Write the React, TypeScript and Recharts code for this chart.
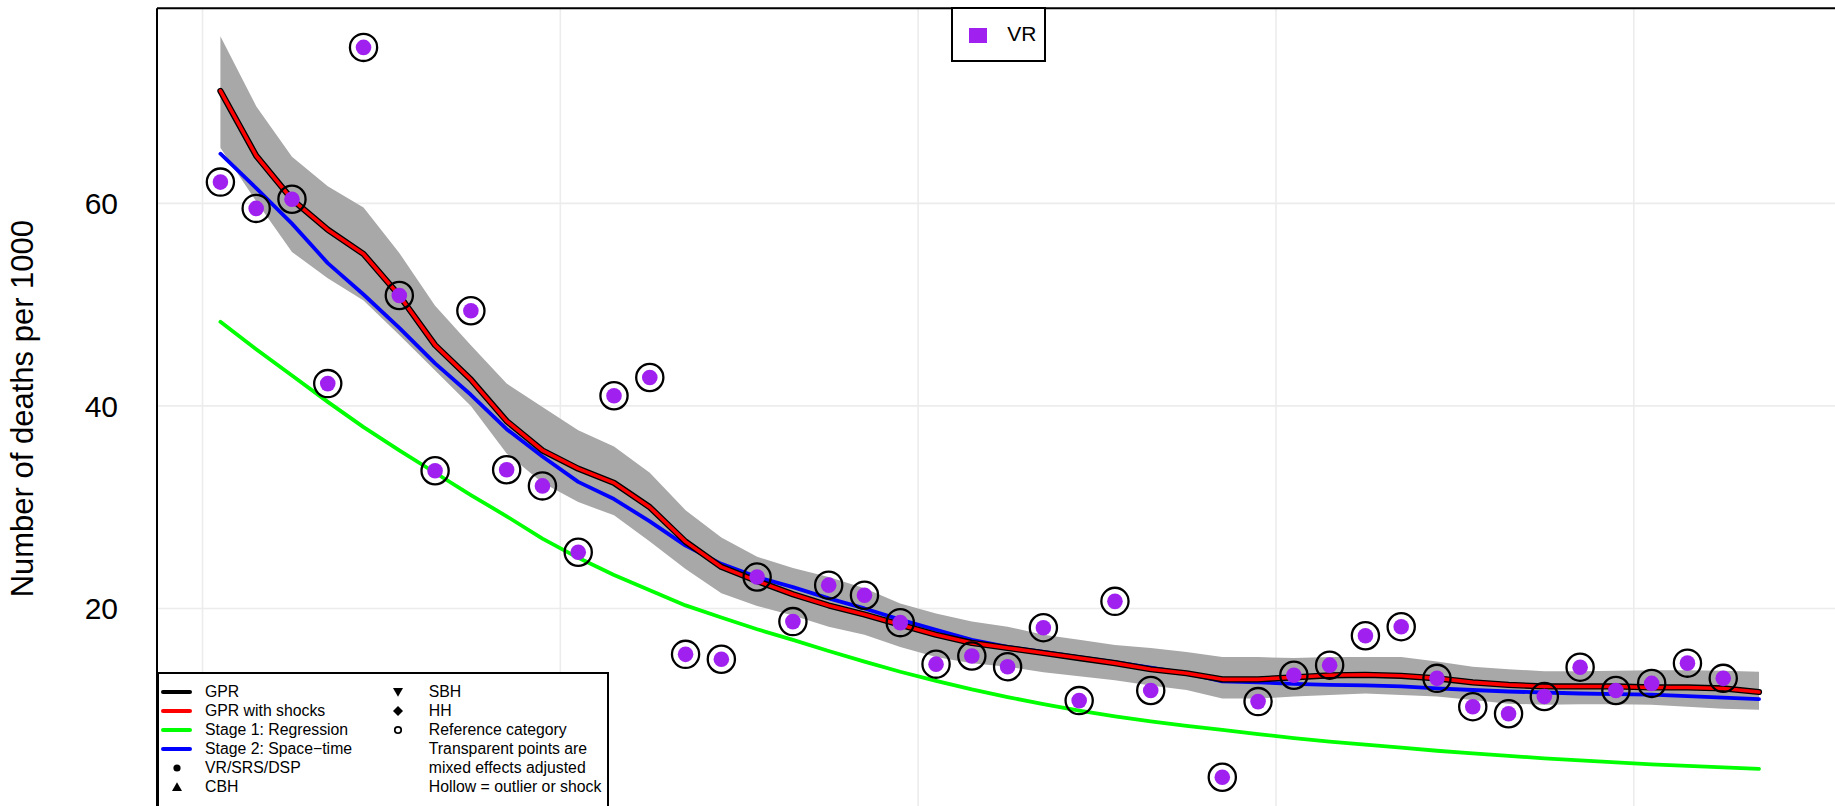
import React from "react";
import {
  ComposedChart,
  Line,
  Area,
  Scatter,
  XAxis,
  YAxis,
  CartesianGrid,
  ReferenceLine,
  Legend,
  Label,
} from "recharts";

const FONT = "'Liberation Sans', Arial, Helvetica, sans-serif";

// estimate years (drawn at mid-year)
const years = [
  1970, 1971, 1972, 1973, 1974, 1975, 1976, 1977, 1978, 1979, 1980, 1981, 1982, 1983, 1984,
  1985, 1986, 1987, 1988, 1989, 1990, 1991, 1992, 1993, 1994, 1995, 1996, 1997, 1998, 1999,
  2000, 2001, 2002, 2003, 2004, 2005, 2006, 2007, 2008, 2009, 2010, 2011, 2012, 2013,
];
const gpr = [
  71.1, 64.7, 60.4, 57.4, 55.0, 50.9, 46.0, 42.6, 38.5, 35.6, 33.8, 32.4, 30.0, 26.6, 24.1,
  22.7, 21.4, 20.3, 19.4, 18.4, 17.4, 16.6, 16.1, 15.6, 15.1, 14.6, 14.0, 13.6, 13.0, 13.0,
  13.2, 13.4, 13.45, 13.35, 13.1, 12.7, 12.45, 12.3, 12.3, 12.3, 12.2, 12.2, 12.1, 11.75,
];
const stage1 = [
  48.3, 45.6, 43.0, 40.4, 37.9, 35.6, 33.4, 31.2, 29.1, 26.9, 25.0, 23.3, 21.8, 20.3, 19.1,
  17.95, 16.9, 15.8, 14.75, 13.75, 12.85, 12.0, 11.25, 10.55, 9.9, 9.35, 8.85, 8.4, 8.0, 7.6,
  7.2, 6.85, 6.55, 6.25, 5.95, 5.7, 5.45, 5.2, 5.0, 4.8, 4.6, 4.45, 4.3, 4.15,
];
const stage2 = [
  64.9, 61.5, 58.0, 54.1, 51.0, 47.7, 44.2, 41.1, 37.7, 35.0, 32.5, 30.8, 28.6, 26.2, 24.4,
  23.1, 22.1, 21.0, 20.0, 18.9, 17.9, 16.9, 16.2, 15.7, 15.2, 14.7, 14.15, 13.6, 12.8, 12.7,
  12.55, 12.45, 12.4, 12.3, 12.1, 11.95, 11.8, 11.7, 11.6, 11.55, 11.5, 11.35, 11.2, 11.05,
];
const gprLower = [
  65.5, 60.2, 55.2, 52.6, 50.4, 47.0, 43.5, 40.0, 35.3, 32.4, 30.5, 29.2, 26.6, 23.9, 21.5,
  20.25, 19.3, 18.2, 17.4, 16.2, 15.2, 14.6, 14.25, 13.7, 13.3, 12.9, 12.4, 11.95, 11.1, 11.1,
  11.3, 11.45, 11.6, 11.45, 11.3, 10.95, 10.6, 10.5, 10.55, 10.55, 10.5, 10.3, 10.1, 10.0,
];
const gprUpper = [
  76.5, 69.6, 64.6, 61.7, 59.6, 55.1, 49.9, 46.0, 42.2, 39.9, 37.6, 36.0, 33.4, 29.7, 27.0,
  25.1, 24.0, 23.1, 22.0, 20.5, 19.5, 18.7, 18.2, 17.4, 16.9, 16.4, 16.1, 15.7, 15.2, 15.2,
  15.1, 15.2, 15.2, 15.2, 14.75, 14.25, 14.0, 13.8, 13.8, 13.85, 13.9, 13.9, 13.85, 13.75,
];

// VR data points
const vrYears = [
  1970, 1971, 1972, 1973, 1974, 1975, 1976, 1977, 1978, 1979, 1980, 1981, 1982, 1983, 1984,
  1985, 1986, 1987, 1988, 1989, 1990, 1991, 1992, 1993, 1994, 1995, 1996, 1998, 1999, 2000,
  2001, 2002, 2003, 2004, 2005, 2006, 2007, 2008, 2009, 2010, 2011, 2012,
];
const vrValues = [
  62.1, 59.5, 60.4, 42.2, 75.4, 50.9, 33.6, 49.4, 33.7, 32.1, 25.55, 41.0, 42.8, 15.47, 14.98,
  23.1, 18.7, 22.3, 21.3, 18.6, 14.5, 15.3, 14.25, 18.1, 10.9, 20.7, 11.9, 3.33, 10.8, 13.4,
  14.4, 17.3, 18.2, 13.1, 10.3, 9.6, 11.3, 14.2, 11.9, 12.6, 14.6, 13.1,
];

const xTicks = [1970, 1980, 1990, 2000, 2010];
const yTicks = [20, 40, 60];
const xDomain = [1968.728, 2017.44];

const lineKeys = [
  { label: "GPR", color: "#000000" },
  { label: "GPR with shocks", color: "#ff0000" },
  { label: "Stage 1: Regression", color: "#00ff00" },
  { label: "Stage 2: Space\u2212time", color: "#0000ff" },
];
const leftSymbolKeys = [
  { label: "VR/SRS/DSP", shape: "dot" },
  { label: "CBH", shape: "up" },
];
const rightKeys = [
  { label: "SBH", shape: "down" },
  { label: "HH", shape: "diamond" },
  { label: "Reference category", shape: "ring" },
  { label: "Transparent points are", shape: "" },
  { label: "mixed effects adjusted", shape: "" },
  { label: "Hollow = outlier or shock", shape: "" },
];

const rows = years.map((y, i) => ({
  x: y + 0.5,
  gpr: gpr[i],
  stage1: stage1[i],
  stage2: stage2[i],
  band: [gprLower[i], gprUpper[i]],
}));
const vrPoints = vrYears.map((y, i) => ({ x: y + 0.5, y: vrValues[i] }));

const PURPLE = "#a020f0";

function PointShape(props: any) {
  const { cx, cy } = props;
  if (cx == null || cy == null) return null;
  return (
    <g>
      <circle cx={cx} cy={cy} r={13.6} fill="none" stroke="#000" strokeWidth={2.3} />
      <circle cx={cx} cy={cy} r={7.8} fill={PURPLE} />
    </g>
  );
}

function Symbol({ shape }: { shape: string }) {
  return (
    <svg width={14} height={14} viewBox="-7 -7 14 14" style={{ display: "block" }}>
      {shape === "dot" && <circle r={3.6} fill="#000" />}
      {shape === "up" && <polygon points="0,-4.8 5,4 -5,4" fill="#000" />}
      {shape === "down" && <polygon points="0,4.8 5,-4 -5,-4" fill="#000" />}
      {shape === "diamond" && <polygon points="0,-5 5,0 0,5 -5,0" fill="#000" />}
      {shape === "ring" && <circle r={3.2} fill="none" stroke="#000" strokeWidth={1.8} />}
    </svg>
  );
}

const rowStyle: React.CSSProperties = {
  height: 19.1,
  display: "flex",
  alignItems: "center",
  whiteSpace: "nowrap",
};

function KeyBoxes() {
  const leftRows = [
    ...lineKeys.map((k) => ({ label: k.label, color: k.color, shape: "" })),
    ...leftSymbolKeys.map((k) => ({ label: k.label, color: "", shape: k.shape })),
  ];
  return (
    <div style={{ position: "relative", fontFamily: FONT, color: "#000" }}>
      <div
        style={{
          position: "absolute",
          left: 950.7,
          top: 7.3,
          width: 95.3,
          height: 55,
          border: "2px solid #000",
          boxSizing: "border-box",
          background: "#fff",
        }}
      >
        <div
          style={{
            position: "absolute",
            left: 16.6,
            top: 18.4,
            width: 18,
            height: 15,
            background: PURPLE,
          }}
        />
        <div
          style={{
            position: "absolute",
            left: 54.6,
            top: 13,
            fontSize: 21,
            lineHeight: "24px",
          }}
        >
          VR
        </div>
      </div>
      <div
        style={{
          position: "absolute",
          left: 157.3,
          top: 671.7,
          width: 452,
          height: 160,
          border: "2px solid #000",
          boxSizing: "border-box",
          background: "#fff",
          fontSize: 15.8,
        }}
      >
        <div style={{ position: "absolute", left: 0, top: 8.5 }}>
          {leftRows.map((r) => (
            <div key={r.label} style={rowStyle}>
              <div style={{ width: 45.7, display: "flex", alignItems: "center" }}>
                {r.color ? (
                  <div
                    style={{
                      marginLeft: 1.4,
                      width: 31,
                      height: 4,
                      borderRadius: 2,
                      background: r.color,
                    }}
                  />
                ) : (
                  <div style={{ marginLeft: 10.5 }}>
                    <Symbol shape={r.shape} />
                  </div>
                )}
              </div>
              <span>{r.label}</span>
            </div>
          ))}
        </div>
        <div style={{ position: "absolute", left: 232, top: 8.5 }}>
          {rightKeys.map((r) => (
            <div key={r.label} style={rowStyle}>
              <div style={{ width: 37.5 }}>{r.shape && <Symbol shape={r.shape} />}</div>
              <span>{r.label}</span>
            </div>
          ))}
        </div>
      </div>
    </div>
  );
}

function YTitle(props: any) {
  const vb = props.viewBox || { x: 0, y: 0, width: 0, height: 0 };
  const cx = vb.x + 33.5;
  const cy = vb.y + vb.height / 2 - 1;
  return (
    <text
      x={cx}
      y={cy}
      transform={`rotate(-90 ${cx} ${cy})`}
      textAnchor="middle"
      fontSize={31}
      fontFamily={FONT}
      fill="#000"
    >
      Number of deaths per 1000
    </text>
  );
}

// vertical grid lines at the decade ticks, placed through the x axis scale
function decadeLines(p: any) {
  const s = p?.xAxis?.scale;
  let f: ((v: number) => number) | null = null;
  if (typeof s === "function") f = s;
  else if (s && typeof s.map === "function") f = (v) => s.map(v);
  else if (s && typeof s.scale === "function") f = (v) => s.scale(v);
  if (!f) {
    const left = p?.offset?.left ?? 157;
    const width = p?.offset?.width ?? 1743;
    f = (v) => left + ((v - xDomain[0]) / (xDomain[1] - xDomain[0])) * width;
  }
  const out = xTicks.map((t) => Number(f!(t)));
  return out.every((v) => Number.isFinite(v)) ? out : [];
}

export default function App() {
  return (
    <div
      style={{
        position: "fixed",
        left: 0,
        top: 0,
        width: 1835,
        height: 806,
        overflow: "hidden",
        background: "#fff",
      }}
    >
      <ComposedChart
        width={1900}
        height={811}
        data={rows}
        margin={{ top: 8.3, right: 0, bottom: 0, left: 0 }}
      >
        <CartesianGrid
          stroke="#ececec"
          strokeWidth={1.6}
          verticalCoordinatesGenerator={decadeLines}
        />
        <XAxis
          type="number"
          dataKey="x"
          domain={xDomain}
          ticks={xTicks}
          allowDataOverflow
          height={0}
          tick={() => <g />}
          axisLine={false}
          tickLine={false}
        />
        <YAxis
          type="number"
          domain={[0, 79.26]}
          ticks={yTicks}
          allowDataOverflow
          width={157}
          axisLine={{ stroke: "#000", strokeWidth: 2 }}
          tickLine={false}
          tickSize={0}
          tickMargin={39}
          tick={{ fontSize: 30, fill: "#000", fontFamily: FONT }}
        >
          <Label content={<YTitle />} />
        </YAxis>
        <ReferenceLine y={79.26} stroke="#000" strokeWidth={2} />
        <Area
          dataKey="band"
          type="linear"
          fill="#a8a8a8"
          fillOpacity={1}
          stroke="none"
          isAnimationActive={false}
          activeDot={false}
        />
        <Line
          dataKey="stage1"
          name="Stage 1: Regression"
          type="linear"
          stroke="#00ff00"
          strokeWidth={3.8}
          strokeLinecap="round"
          strokeLinejoin="round"
          dot={false}
          activeDot={false}
          isAnimationActive={false}
        />
        <Line
          dataKey="stage2"
          name="Stage 2: Space-time"
          type="linear"
          stroke="#0000ff"
          strokeWidth={3.8}
          strokeLinecap="round"
          strokeLinejoin="round"
          dot={false}
          activeDot={false}
          isAnimationActive={false}
        />
        <Line
          dataKey="gpr"
          name="GPR"
          type="linear"
          stroke="#000000"
          strokeWidth={6.2}
          strokeLinecap="round"
          strokeLinejoin="round"
          dot={false}
          activeDot={false}
          isAnimationActive={false}
        />
        <Line
          dataKey="gpr"
          name="GPR with shocks"
          type="linear"
          stroke="#ff0000"
          strokeWidth={3.6}
          strokeLinecap="round"
          strokeLinejoin="round"
          dot={false}
          activeDot={false}
          isAnimationActive={false}
        />
        <Scatter
          data={vrPoints}
          dataKey="y"
          name="VR"
          shape={<PointShape />}
          isAnimationActive={false}
        />
        <Legend
          content={<KeyBoxes />}
          layout="horizontal"
          verticalAlign="middle"
          align="center"
          wrapperStyle={{ left: 0, top: 0, width: 0, height: 0 }}
        />
      </ComposedChart>
    </div>
  );
}
